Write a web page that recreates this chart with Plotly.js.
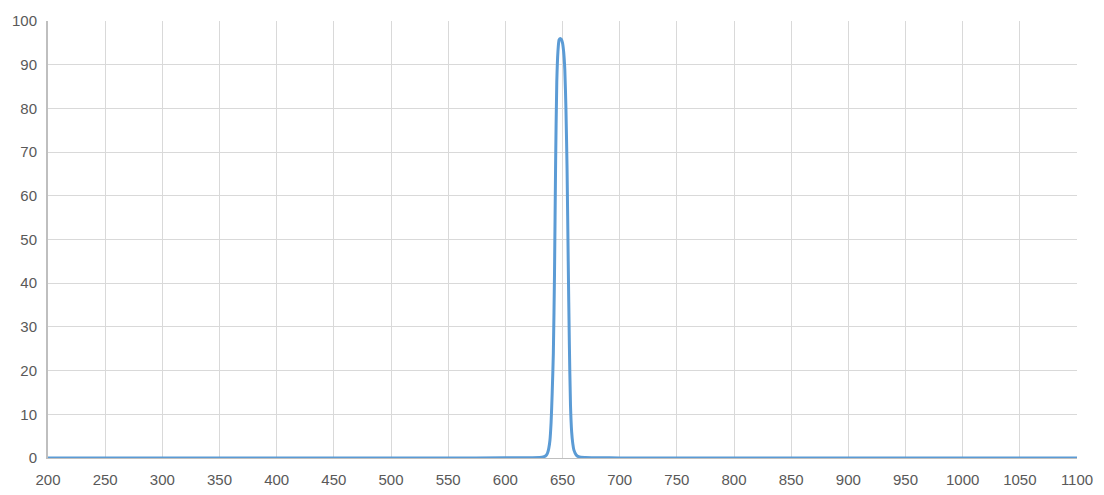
<!DOCTYPE html>
<html>
<head>
<meta charset="utf-8">
<script src="https://cdn.plot.ly/plotly-3.0.1.min.js"></script>
<style>html,body{margin:0;padding:0;background:#fff;}#chart{width:1104px;height:495px;}</style>
</head>
<body>
<div id="chart"></div>
<script>
const wavelength = [200, 300, 400, 500, 550, 600, 620, 630, 632, 634, 636, 637, 638, 639, 640, 641, 642, 643, 644, 645, 646, 647, 648, 649, 650, 651, 652, 653, 654, 655, 656, 657, 658, 659, 660, 662, 664, 666, 670, 680, 700, 800, 900, 1000, 1100];
const transmission = [0, 0, 0, 0, 0, 0.03, 0.05, 0.1, 0.15, 0.3, 0.7, 1.2, 2.2, 4, 8, 15, 24, 42, 68, 86, 93, 95.7, 96, 95.8, 95, 93, 89, 80, 66, 45, 26, 12, 6, 3.3, 1.8, 0.7, 0.3, 0.15, 0.1, 0.05, 0.02, 0, 0, 0, 0];

const trace = {
  x: wavelength,
  y: transmission,
  type: 'scatter',
  mode: 'lines',
  line: {color: '#5b9bd5', width: 3, shape: 'spline', smoothing: 0.6},
  hoverinfo: 'x+y'
};

const layout = {
  width: 1104,
  height: 495,
  margin: {l: 48, r: 27, t: 21, b: 37},
  paper_bgcolor: '#ffffff',
  plot_bgcolor: '#ffffff',
  showlegend: false,
  font: {family: 'Liberation Sans, Arial, sans-serif', size: 15, color: '#595959'},
  xaxis: {
    range: [200, 1100],
    dtick: 50,
    tick0: 200,
    showgrid: true,
    gridcolor: '#d9d9d9',
    gridwidth: 1,
    zeroline: false,
    showline: true,
    linecolor: '#bfbfbf',
    linewidth: 1,
    ticks: '',
    ticklabelstandoff: 8,
    tickfont: {size: 15, color: '#595959'}
  },
  yaxis: {
    range: [0, 100],
    dtick: 10,
    tick0: 0,
    showgrid: true,
    gridcolor: '#d9d9d9',
    gridwidth: 1,
    zeroline: false,
    showline: true,
    linecolor: '#bfbfbf',
    linewidth: 2,
    ticks: '',
    ticklabelstandoff: 6,
    tickfont: {size: 15, color: '#595959'}
  }
};

Plotly.newPlot('chart', [trace], layout, {displayModeBar: false, staticPlot: true});
</script>
</body>
</html>
